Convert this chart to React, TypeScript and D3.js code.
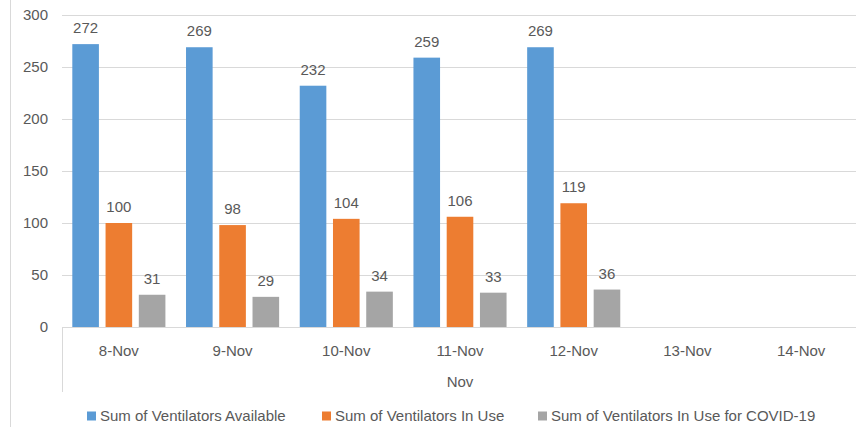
import React, { useEffect, useRef } from 'react';
import * as d3 from 'd3';

const days = ['8-Nov', '9-Nov', '10-Nov', '11-Nov', '12-Nov', '13-Nov', '14-Nov'];
const available = [272, 269, 232, 259, 269, null, null];
const inUse = [100, 98, 104, 106, 119, null, null];
const inUseCovid = [31, 29, 34, 33, 36, null, null];
const seriesNames = ['Sum of Ventilators Available', 'Sum of Ventilators In Use', 'Sum of Ventilators In Use for COVID-19'];
const seriesColors = ['#5B9BD5', '#ED7D31', '#A5A5A5'];
const yTicks = [0, 50, 100, 150, 200, 250, 300];
const monthLabel = 'Nov';

export default function App() {
  const svgRef = useRef<SVGSVGElement | null>(null);
  const width = 856;
  const height = 427;

  useEffect(() => {
    document.body.style.margin = '0';
    const svg = d3.select(svgRef.current)
      .attr('width', width)
      .attr('height', height)
      .style('display', 'block')
      .style('font-family', '"Liberation Sans", Arial, sans-serif');
    svg.selectAll('*').remove();

    const left = 62, right = 858, top = 15, bottom = 327;
    const textColor = '#595959';
    const gridColor = '#D9D9D9';
    const fs = 15;

    // chart border (only left edge is inside the picture)
    svg.append('line')
      .attr('x1', 10.5).attr('x2', 10.5).attr('y1', 0).attr('y2', height)
      .attr('stroke', gridColor);

    const y = d3.scaleLinear().domain([0, 300]).range([bottom, top]);
    const x = d3.scaleBand().domain(days).range([left, right]).paddingInner(0).paddingOuter(0);
    const keys = ['a', 'b', 'c'];
    const xs = d3.scaleBand().domain(keys).range([0, x.bandwidth()]).paddingInner(0.2).paddingOuter(0.31);

    // gridlines
    svg.append('g').selectAll('line').data(yTicks.filter(t => t > 0)).join('line')
      .attr('x1', left).attr('x2', right)
      .attr('y1', d => Math.round(y(d)) + 0.5).attr('y2', d => Math.round(y(d)) + 0.5)
      .attr('stroke', gridColor);

    // y axis labels
    svg.append('g').selectAll('text').data(yTicks).join('text')
      .attr('x', 48).attr('y', d => y(d)).attr('dy', '0.35em')
      .attr('text-anchor', 'end').attr('font-size', fs).attr('fill', textColor)
      .text(d => d);

    const rows = days.map((d, i) => ({ day: d, vals: [available[i], inUse[i], inUseCovid[i]] }));

    const groups = svg.append('g').selectAll('g').data(rows).join('g')
      .attr('transform', d => `translate(${x(d.day)},0)`);

    groups.selectAll('rect')
      .data(d => d.vals.map((v, j) => ({ v, k: keys[j], c: seriesColors[j] })).filter(e => e.v !== null))
      .join('rect')
      .attr('x', e => xs(e.k)!)
      .attr('width', xs.bandwidth())
      .attr('y', e => y(e.v as number))
      .attr('height', e => bottom - y(e.v as number))
      .attr('fill', e => e.c);

    groups.selectAll('text')
      .data(d => d.vals.map((v, j) => ({ v, k: keys[j] })).filter(e => e.v !== null))
      .join('text')
      .attr('x', e => xs(e.k)! + xs.bandwidth() / 2)
      .attr('y', e => y(e.v as number) - 11)
      .attr('text-anchor', 'middle').attr('font-size', fs).attr('fill', textColor)
      .text(e => e.v as number);

    // x axis baseline
    svg.append('line')
      .attr('x1', left).attr('x2', right).attr('y1', bottom + 0.5).attr('y2', bottom + 0.5)
      .attr('stroke', gridColor);
    svg.append('line')
      .attr('x1', left + 0.5).attr('x2', left + 0.5).attr('y1', bottom).attr('y2', 392)
      .attr('stroke', gridColor);

    // category labels
    svg.append('g').selectAll('text').data(days).join('text')
      .attr('x', d => x(d)! + x.bandwidth() / 2).attr('y', 351).attr('dy', '0.35em')
      .attr('text-anchor', 'middle').attr('font-size', fs).attr('fill', textColor)
      .text(d => d);

    svg.append('text')
      .attr('x', (left + right) / 2).attr('y', 382).attr('dy', '0.35em')
      .attr('text-anchor', 'middle').attr('font-size', fs).attr('fill', textColor)
      .text(monthLabel);

    // legend
    const legendX = [87, 322, 538];
    const legend = svg.append('g').selectAll('g').data(seriesNames).join('g')
      .attr('transform', (d, i) => `translate(${legendX[i]},416)`);
    legend.append('rect')
      .attr('x', 0).attr('y', -4.5).attr('width', 9).attr('height', 9)
      .attr('fill', (d, i) => seriesColors[i]);
    legend.append('text')
      .attr('x', 13).attr('y', 0).attr('dy', '0.35em')
      .attr('font-size', fs).attr('fill', textColor)
      .text(d => d);
  }, []);

  return <svg ref={svgRef}></svg>;
}
